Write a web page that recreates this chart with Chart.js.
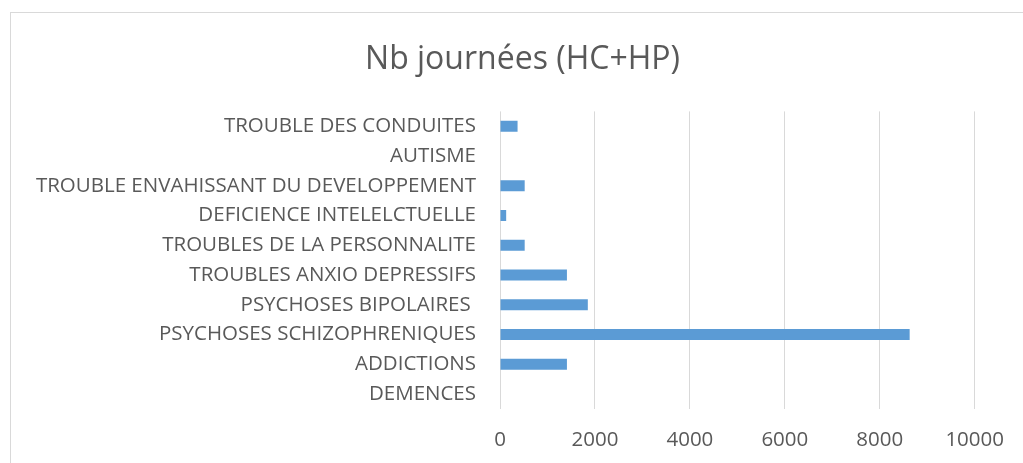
<!DOCTYPE html>
<html>
<head>
<meta charset="utf-8">
<script src="https://cdn.jsdelivr.net/npm/chart.js@4.4.0/dist/chart.umd.min.js"></script>
<style>
    html, body { margin: 0; padding: 0; background: #fff; overflow: hidden; }
    #frame { position: absolute; left: 10px; top: 12px; width: 1040px; height: 500px; border: 1px solid #D9D9D9; }
    #wrap { position: absolute; left: 0; top: 0; width: 1023px; height: 463px; }
</style>
</head>
<body>
<div id="frame"></div>
<div id="wrap"><canvas id="chart"></canvas></div>
<script>
// ── data ──
const categories = [
    'TROUBLE DES CONDUITES',
    'AUTISME',
    'TROUBLE ENVAHISSANT DU DEVELOPPEMENT',
    'DEFICIENCE INTELELCTUELLE',
    'TROUBLES DE LA PERSONNALITE',
    'TROUBLES ANXIO DEPRESSIFS',
    'PSYCHOSES BIPOLAIRES ',
    'PSYCHOSES SCHIZOPHRENIQUES',
    'ADDICTIONS',
    'DEMENCES'
];
const journees = [370, 0, 520, 130, 520, 1410, 1850, 8630, 1410, 0];
const xTicks = [0, 2000, 4000, 6000, 8000, 10000];

const FONT = "'Open Sans', sans-serif";
const TEXT = '#595959';

// centre the title on the frame rather than on the padded area
const titleShift = {
    id: 'titleShift',
    afterLayout(chart) {
        if (chart.titleBlock) { chart.titleBlock.left = 22; chart.titleBlock.right = 1023; }
    }
};

new Chart(document.getElementById('chart').getContext('2d'), {
    type: 'bar',
    data: {
        labels: categories,
        datasets: [{ label: 'Nb journées (HC+HP)', data: journees, backgroundColor: '#5B9BD5', borderWidth: 0, categoryPercentage: 1, barPercentage: 0.37 }]
    },
    options: {
        indexAxis: 'y', responsive: true, maintainAspectRatio: false, animation: false,
        layout: { padding: { top: 20, right: 48, bottom: 0, left: 0 } },
        plugins: {
            legend: { display: false }, tooltip: { enabled: false },
            title: { display: true, text: 'Nb journées (HC+HP)', color: TEXT, font: { family: FONT, size: 32, weight: 'normal' }, padding: { top: 21, bottom: 32 } }
        },
        scales: {
            x: {
                min: 0, max: 10000,
                afterBuildTicks: s => { s.ticks = xTicks.map(v => ({ value: v })); },
                afterFit: s => { s.height = 54; },
                grid: { color: '#D9D9D9', lineWidth: 1, drawTicks: false },
                border: { display: false },
                ticks: { color: TEXT, padding: 19, font: { family: FONT, size: 20.5 }, callback: v => String(v) }
            },
            y: {
                afterFit: s => { s.width = 500; },
                grid: { display: false, drawTicks: false },
                border: { display: false },
                ticks: { color: TEXT, padding: 24, autoSkip: false, font: { family: FONT, size: 20.5 } }
            }
        }
    },
    plugins: [titleShift]
});
</script>
</body>
</html>
